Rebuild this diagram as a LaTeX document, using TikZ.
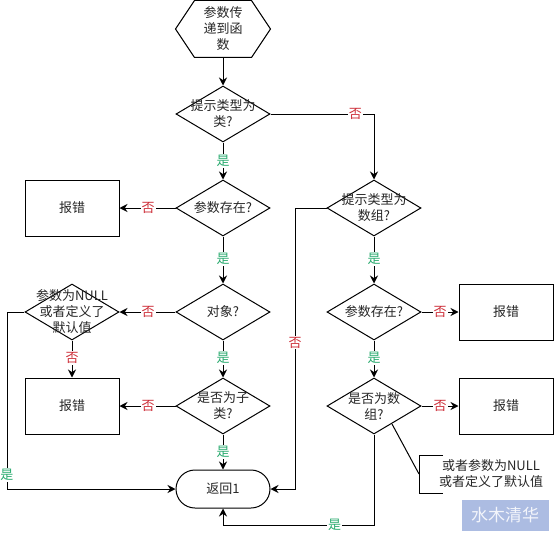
\documentclass[tikz,border=0pt]{standalone}
\usepackage{fontspec}
\setmainfont{Noto Sans CJK SC}
\usepackage{xcolor}
\usetikzlibrary{arrows.meta, shapes.geometric}

\definecolor{yesgreen}{RGB}{40,170,110}
\definecolor{nored}{RGB}{205,45,55}
\definecolor{stampblue}{RGB}{172,188,226}

\tikzset{
  flowtext/.style={align=center, font=\fontsize{13}{16}\selectfont, text=black!85},
  decision/.style={diamond, draw, inner sep=0pt, minimum width=94pt, minimum height=56pt},
  errorbox/.style={rectangle, draw, minimum width=94pt, minimum height=56pt, flowtext},
  yeslab/.style={fill=white, inner sep=1pt, text=yesgreen, font=\fontsize{13}{14}\selectfont},
  nolab/.style={fill=white, inner sep=1pt, text=nored, font=\fontsize{13}{14}\selectfont},
}

\begin{document}
\begin{tikzpicture}[>={Stealth[length=8pt, width=8pt]}, x=1pt, y=-1pt, line width=1pt, every label/.style={flowtext}]
  \useasboundingbox (0,0) rectangle (554,535);

  % Node positions
  \node[rectangle, inner sep=0pt, minimum width=94pt, minimum height=56pt, flowtext] (start) at (223,29) {参数传\\递到函\\数};
  \node[decision, label={center:提示类型为\\类?}] (isclass) at (223,114) {};
  \node[decision, label={center:参数存在?}] (exists1) at (223,208) {};
  \node[decision, label={center:对象?}] (isobject) at (223,312) {};
  \node[decision, label={center:是否为子\\类?}] (issub) at (223,406) {};
  \node[decision, label={center:参数为NULL\\或者定义了\\默认值}] (isnull) at (72,312) {};
  \node[decision, label={center:提示类型为\\数组?}] (isarray) at (374,208) {};
  \node[decision, label={center:参数存在?}] (exists2) at (374,312) {};
  \node[decision, label={center:是否为数\\组?}] (isarr2) at (374,406) {};

  \node[errorbox] (err1) at (72,208) {报错};
  \node[errorbox] (err2) at (72,406) {报错};
  \node[errorbox] (err3) at (506,312) {报错};
  \node[errorbox] (err4) at (506,406) {报错};

  \node[rectangle, rounded corners=19pt, draw, minimum width=94pt, minimum height=38pt, flowtext] (ret) at (223,489) {返回1};

  % Hexagon outline
  \draw (start.west) -- ([xshift=19pt]start.north west) -- ([xshift=-19pt]start.north east)
        -- (start.east) -- ([xshift=-19pt]start.south east) -- ([xshift=19pt]start.south west) -- cycle;

  % Note and stamp
  \node[flowtext] (note) at (491,474) {或者参数为NULL\\或者定义了默认值};
  \node[fill=stampblue, minimum width=87pt, minimum height=31pt, inner sep=0pt, text=white!85!stampblue,
        font=\fontsize{17}{17}\selectfont] (stamp) at (505,515) {水木清华};

  % Bends
  \coordinate (b1) at (295,208);
  \coordinate (b2) at (295,489);
  \coordinate (b3) at (7,312);
  \coordinate (b4) at (7,489);
  \coordinate (b5) at (374,525);
  \coordinate (b6) at (223,525);
  \coordinate (lead) at (392,424);
  \coordinate (k1) at (443,455);
  \coordinate (k2) at (419,455);
  \coordinate (k3) at (419,474);
  \coordinate (k4) at (419,493);
  \coordinate (k5) at (443,493);

  % Main column
  \draw[->] (start) -- (isclass);
  \draw[->] (isclass) -- node[yeslab, pos=0.5] {是} (exists1);
  \draw[->] (exists1) -- node[yeslab, pos=0.48] {是} (isobject);
  \draw[->] (isobject) -- node[yeslab, pos=0.47] {是} (issub);
  \draw[->] (issub) -- node[yeslab, pos=0.5] {是} (ret);

  % Right column
  \draw[->] (isclass) -| node[nolab, pos=0.41] {否} (isarray);
  \draw[->] (isarray) -- node[yeslab, pos=0.48] {是} (exists2);
  \draw[->] (exists2) -- node[yeslab, pos=0.47] {是} (isarr2);
  \draw[->] (isarr2) -- (b5) -- node[yeslab, pos=0.26] {是} (b6) -- (ret);
  \draw[->] (isarray) -- (b1) -- node[nolab, pos=0.48] {否} (b2) -- (ret);

  % Errors
  \draw[->] (exists1) -- node[nolab, pos=0.49] {否} (err1);
  \draw[->] (isobject) -- node[nolab, pos=0.49] {否} (isnull);
  \draw[->] (issub) -- node[nolab, pos=0.49] {否} (err2);
  \draw[->] (isnull) -- node[nolab, pos=0.47] {否} (err2);
  \draw[->] (exists2) -- node[nolab, pos=0.5] {否} (err3);
  \draw[->] (isarr2) -- node[nolab, pos=0.5] {否} (err4);
  \draw[->] (isnull) -- (b3) -- node[yeslab, pos=0.92] {是} (b4) -- (ret);

  % Note bracket
  \draw (k1) -- (k2) -- (k4) -- (k5);
  \draw (lead) -- (k3);
\end{tikzpicture}
\end{document}
